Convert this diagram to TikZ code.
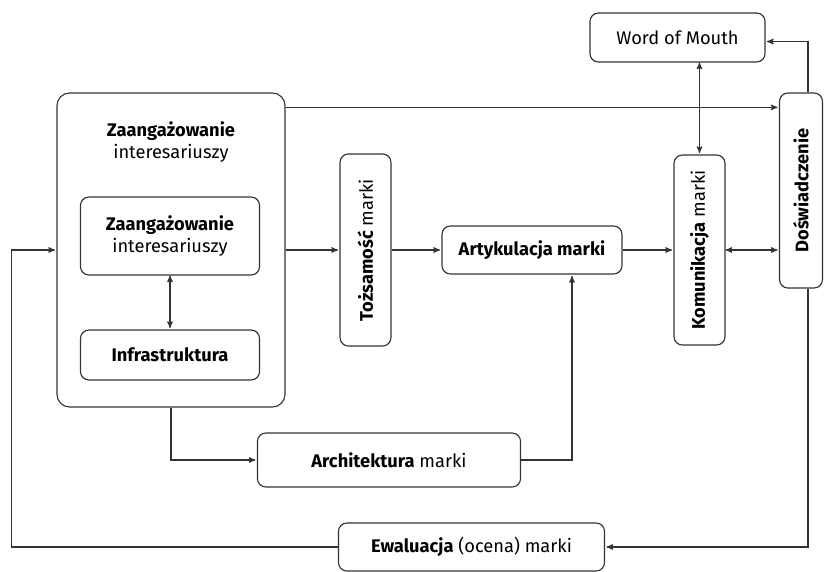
\documentclass[tikz,border=0pt]{standalone}
\usepackage{fontspec}
\setmainfont{Fira Sans}
\usetikzlibrary{arrows}

\begin{document}
\begin{tikzpicture}[x=0.025cm,y=-0.025cm,>=stealth',shorten >=1pt,auto,
                line width=0.75pt,draw=black!80,
                font=\fontsize{13}{16}\selectfont,
                block/.style={rectangle,rounded corners=6pt,draw=black!80,line width=0.8pt,align=center,inner sep=2pt}]
                \useasboundingbox (0,0) rectangle (825,572);
                \node[block,minimum width=5.7cm,minimum height=7.85cm,rounded corners=9pt] (zang) at (171,250) {};
                \node[align=center] (zangtxt) at (171,142) {\textbf{Zaangażowanie}\\interesariuszy};
                \node[block,minimum width=4.475cm,minimum height=1.95cm] (inner) at (170,236) {\textbf{Zaangażowanie}\\interesariuszy};
                \node[block,minimum width=4.475cm,minimum height=1.25cm] (infra) at (170,355) {\textbf{Infrastruktura}};
                \node[block,minimum width=1.275cm,minimum height=4.8cm] (tozs) at (365.5,250) {\rotatebox{90}{\textbf{Tożsamość} marki}};
                \node[block,minimum width=4.5cm,minimum height=1.2cm] (arty) at (532,250) {\textbf{Artykulacja marki}};
                \node[block,minimum width=1.275cm,minimum height=4.75cm] (komu) at (699.5,250) {\rotatebox{90}{\textbf{Komunikacja} marki}};
                \node[block,minimum width=1.075cm,minimum height=4.875cm] (dosw) at (801,190.5) {\rotatebox{90}{\textbf{Doświadczenie}}};
                \node[block,minimum width=4.375cm,minimum height=1.225cm] (wom) at (677.5,37.5) {Word of Mouth};
                \node[block,minimum width=6.575cm,minimum height=1.35cm] (arch) at (389,460) {\textbf{Architektura} marki};
                \node[block,minimum width=6.65cm,minimum height=1.2cm] (ewal) at (471.5,547) {\textbf{Ewaluacja} (ocena) marki};

                \path[draw=black!80]
                (zang) edge[->] (tozs)
                (tozs) edge[->] (arty)
                (arty) edge[->] (komu)
                (komu) edge[<->] (komu -| dosw.west)
                (wom.south -| komu) edge[<->] (komu)
                (inner) edge[<->] (infra)
                ;
                \draw[->] ([yshift=-0.375cm]zang.north east) -- ([yshift=-0.375cm]zang.north east -| dosw.west);
                \draw[->] ([xshift=0.175cm]dosw.north) |- ([yshift=-0.1cm]wom.east);
                \draw[->] ([xshift=0.175cm]dosw.south) |- (ewal.east);
                \draw[->] (ewal.west) -| ([xshift=-1.125cm]zang.west) -- (zang.west);
                \draw[->] (zang.south) |- (arch.west);
                \draw[->] (arch.east) -| ([xshift=1cm]arty.south);
                \end{tikzpicture}
\end{document}
